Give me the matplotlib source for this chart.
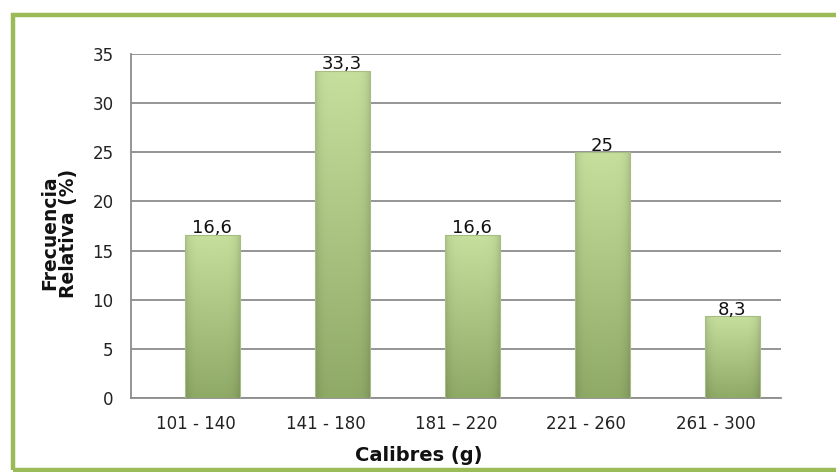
import numpy as np
import matplotlib
matplotlib.use("Agg")
import matplotlib.pyplot as plt
from matplotlib.patches import Rectangle
from matplotlib.colors import to_rgb

categories = ["101 - 140", "141 - 180", "181 \u2013 220", "221 - 260", "261 - 300"]
values = [16.6, 33.3, 16.6, 25, 8.3]
value_labels = ["16,6", "33,3", "16,6", "25", "8,3"]
yticks = [0, 5, 10, 15, 20, 25, 30, 35]

plt.rcParams['font.family'] = ['DejaVu Sans']

W, H = 837, 472
fig = plt.figure(figsize=(W / 100, H / 100), dpi=100)
ax = fig.add_axes([131 / W, 1 - 398 / H, 650 / W, 344 / H])

x = np.arange(len(categories))
offset = 0.125
width = 0.42

bars = ax.bar(x + offset, values, width=width, color='none', edgecolor='none', zorder=3)

top_c = np.array(to_rgb('#c6df9c'))
bot_c = np.array(to_rgb('#8fa966'))
ny, nx = 100, 50
tv = np.linspace(0, 1, ny)[:, None]  # 0 top -> 1 bottom
hx = np.linspace(-1, 1, nx)[None, :]
base = top_c[None, None, :] * (1 - tv[..., None]) + bot_c[None, None, :] * tv[..., None]
edge = 1 - 0.12 * (np.abs(hx) ** 6)[..., None]
img = np.clip(base * edge, 0, 1)

for b in bars:
    x0, y0 = b.get_x(), b.get_y()
    w, h = b.get_width(), b.get_height()
    im = ax.imshow(img, extent=[x0, x0 + w, y0, y0 + h], aspect='auto',
                   zorder=3, interpolation='bilinear')
    clip = Rectangle((x0, y0), w, h, transform=ax.transData)
    im.set_clip_path(clip)
    ax.add_patch(Rectangle((x0, y0), w, h, fill=False, edgecolor='#a7bd86',
                           linewidth=0.8, zorder=4))

for xi, v, lab in zip(x, values, value_labels):
    ax.text(xi + offset, v + 0.15, lab, ha='center', va='baseline', fontsize=13,
            color='#111111', zorder=5)

ax.set_xlim(-0.5, 4.5)
ax.set_ylim(0, 35)
ax.set_yticks(yticks)
ax.set_xticks(x)
ax.set_xticklabels(categories, fontsize=12, color='#222222')
ax.tick_params(axis='y', length=0, pad=12.5, labelsize=12, labelcolor='#222222')
ax.tick_params(axis='x', length=0, pad=12.5)
ax.yaxis.grid(True, color='#8c8c8c', linewidth=1.3, zorder=0)
ax.set_axisbelow(True)
for s in ['top', 'right']:
    ax.spines[s].set_visible(False)
for s in ['left', 'bottom']:
    ax.spines[s].set_color('#8c8c8c')
    ax.spines[s].set_linewidth(1.3)

fig.text(59 / W, 1 - 233 / H, "Frecuencia\nRelativa (%)", rotation=90,
         ha='center', va='center', fontsize=13.5, fontweight='bold',
         color='#111111', linespacing=0.95)
fig.text(419 / W, 1 - 446 / H, "Calibres (g)", ha='center', va='top',
         fontsize=14, fontweight='bold', color='#111111')

# green frame
fig.patches.append(Rectangle((0, 1 - 472 / H), 1, 3 / H,
                             transform=fig.transFigure, facecolor='white',
                             edgecolor='none', zorder=9))
fig.patches.append(Rectangle((13 / W, 1 - 469.5 / H), 2, (469.5 - 14.5) / H,
                             transform=fig.transFigure, fill=False,
                             edgecolor='#9bbb59', linewidth=3.2, zorder=10))

fig.savefig("out.png", dpi=100)
